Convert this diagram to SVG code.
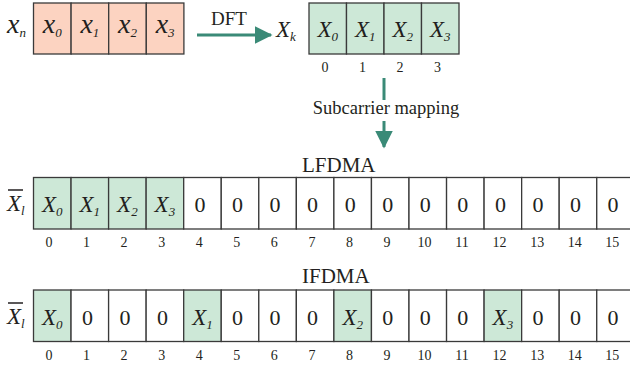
<svg xmlns="http://www.w3.org/2000/svg" width="630" height="367" viewBox="0 0 630 367" font-family="'Liberation Serif', 'Times New Roman', 'DejaVu Serif', serif">
<defs>
<style>
text{font-family:'Liberation Serif','Times New Roman','DejaVu Serif',serif;fill:#231f20}
.v{font-style:italic;font-size:23px}
.lx{font-style:italic;font-size:28px}
.s{font-size:13px;font-style:italic}
.z{font-size:22px}
.i{font-size:14px}
.t{font-size:21px}
.pk{fill:#fcd3c1;stroke:#3a3a3a;stroke-width:1.3}
.gr{fill:#cde8d7;stroke:#3a3a3a;stroke-width:1.3}
.wh{fill:#ffffff;stroke:#3a3a3a;stroke-width:1.3}
.ar{stroke:#3a8a77;stroke-width:3;fill:none}
</style>
<marker id="ah" markerWidth="6" markerHeight="6" refX="5.5" refY="3" orient="auto" markerUnits="strokeWidth" viewBox="0 0 6 6">
<path d="M0,0 L6,3 L0,6 z" fill="#3a8a77"/>
</marker>
</defs>

<g id="xn">
<text class="lx" x="7" y="33">x<tspan class="s" dy="4">n</tspan></text>
<rect class="pk" x="33.5" y="3" width="37.6" height="51"/>
<rect class="pk" x="71.1" y="3" width="37.6" height="51"/>
<rect class="pk" x="108.7" y="3" width="37.6" height="51"/>
<rect class="pk" x="146.3" y="3" width="37.6" height="51"/>
<text class="lx" x="52.3" y="33" text-anchor="middle">x<tspan class="s" dy="4">0</tspan></text>
<text class="lx" x="89.9" y="33" text-anchor="middle">x<tspan class="s" dy="4">1</tspan></text>
<text class="lx" x="127.5" y="33" text-anchor="middle">x<tspan class="s" dy="4">2</tspan></text>
<text class="lx" x="165.1" y="33" text-anchor="middle">x<tspan class="s" dy="4">3</tspan></text>
</g>

<g id="xk">
<text class="v" x="276" y="37">X<tspan class="s" dy="4">k</tspan></text>
<rect class="gr" x="309" y="3" width="37.5" height="51"/>
<rect class="gr" x="346.5" y="3" width="37.5" height="51"/>
<rect class="gr" x="384" y="3" width="37.5" height="51"/>
<rect class="gr" x="421.5" y="3" width="37.5" height="51"/>
<text class="v" x="327.75" y="37" text-anchor="middle">X<tspan class="s" dy="4">0</tspan></text>
<text class="v" x="365.25" y="37" text-anchor="middle">X<tspan class="s" dy="4">1</tspan></text>
<text class="v" x="402.75" y="37" text-anchor="middle">X<tspan class="s" dy="4">2</tspan></text>
<text class="v" x="440.25" y="37" text-anchor="middle">X<tspan class="s" dy="4">3</tspan></text>
<text class="i" x="325" y="72" text-anchor="middle">0</text>
<text class="i" x="362.5" y="72" text-anchor="middle">1</text>
<text class="i" x="400" y="72" text-anchor="middle">2</text>
<text class="i" x="437.5" y="72" text-anchor="middle">3</text>
</g>

<g id="connectors">
<line class="ar" x1="197" y1="35" x2="271" y2="35" marker-end="url(#ah)"/>
<text x="229" y="25" text-anchor="middle" style="font-size:19px">DFT</text>
<line class="ar" x1="384" y1="78" x2="384" y2="100"/>
<text x="386" y="114" text-anchor="middle" style="font-size:18.5px">Subcarrier mapping</text>
<line class="ar" x1="384" y1="121" x2="384" y2="147" marker-end="url(#ah)"/>
</g>

<g id="lfdma">
<text class="t" x="302" y="172">LFDMA</text>
<text class="v" x="7" y="211">X<tspan class="s" dy="4">l</tspan></text>
<line x1="8" y1="190" x2="23" y2="190" stroke="#231f20" stroke-width="1.5"/>
<rect class="gr" x="33.5" y="177.5" width="37.55" height="51.5"/>
<rect class="gr" x="71.05" y="177.5" width="37.55" height="51.5"/>
<rect class="gr" x="108.6" y="177.5" width="37.55" height="51.5"/>
<rect class="gr" x="146.15" y="177.5" width="37.55" height="51.5"/>
<rect class="wh" x="183.7" y="177.5" width="37.55" height="51.5"/>
<rect class="wh" x="221.25" y="177.5" width="37.55" height="51.5"/>
<rect class="wh" x="258.8" y="177.5" width="37.55" height="51.5"/>
<rect class="wh" x="296.35" y="177.5" width="37.55" height="51.5"/>
<rect class="wh" x="333.9" y="177.5" width="37.55" height="51.5"/>
<rect class="wh" x="371.45" y="177.5" width="37.55" height="51.5"/>
<rect class="wh" x="409" y="177.5" width="37.55" height="51.5"/>
<rect class="wh" x="446.55" y="177.5" width="37.55" height="51.5"/>
<rect class="wh" x="484.1" y="177.5" width="37.55" height="51.5"/>
<rect class="wh" x="521.65" y="177.5" width="37.55" height="51.5"/>
<rect class="wh" x="559.2" y="177.5" width="37.55" height="51.5"/>
<rect class="wh" x="596.75" y="177.5" width="37.55" height="51.5"/>
<text class="v" x="52.3" y="212" text-anchor="middle">X<tspan class="s" dy="4">0</tspan></text>
<text class="v" x="89.8" y="212" text-anchor="middle">X<tspan class="s" dy="4">1</tspan></text>
<text class="v" x="127.4" y="212" text-anchor="middle">X<tspan class="s" dy="4">2</tspan></text>
<text class="v" x="164.9" y="212" text-anchor="middle">X<tspan class="s" dy="4">3</tspan></text>
<g class="z" text-anchor="middle">
<text x="200" y="212">0</text><text x="237.5" y="212">0</text><text x="275.1" y="212">0</text><text x="312.6" y="212">0</text>
<text x="350.2" y="212">0</text><text x="387.7" y="212">0</text><text x="425.3" y="212">0</text><text x="462.8" y="212">0</text>
<text x="500.4" y="212">0</text><text x="537.9" y="212">0</text><text x="575.5" y="212">0</text><text x="613" y="212">0</text>
</g>
<g class="i" text-anchor="middle">
<text x="49" y="247">0</text><text x="86.6" y="247">1</text><text x="124.1" y="247">2</text><text x="161.7" y="247">3</text>
<text x="199.2" y="247">4</text><text x="236.8" y="247">5</text><text x="274.3" y="247">6</text><text x="311.9" y="247">7</text>
<text x="349.4" y="247">8</text><text x="387" y="247">9</text><text x="424.5" y="247">10</text><text x="462.1" y="247">11</text>
<text x="499.6" y="247">12</text><text x="537.2" y="247">13</text><text x="574.7" y="247">14</text><text x="612.3" y="247">15</text>
</g>
</g>

<g id="ifdma">
<text class="t" x="302" y="283">IFDMA</text>
<text class="v" x="7" y="324">X<tspan class="s" dy="4">l</tspan></text>
<line x1="8" y1="303" x2="23" y2="303" stroke="#231f20" stroke-width="1.5"/>
<rect class="gr" x="33.5" y="290" width="37.55" height="51.5"/>
<rect class="wh" x="71.05" y="290" width="37.55" height="51.5"/>
<rect class="wh" x="108.6" y="290" width="37.55" height="51.5"/>
<rect class="wh" x="146.15" y="290" width="37.55" height="51.5"/>
<rect class="gr" x="183.7" y="290" width="37.55" height="51.5"/>
<rect class="wh" x="221.25" y="290" width="37.55" height="51.5"/>
<rect class="wh" x="258.8" y="290" width="37.55" height="51.5"/>
<rect class="wh" x="296.35" y="290" width="37.55" height="51.5"/>
<rect class="gr" x="333.9" y="290" width="37.55" height="51.5"/>
<rect class="wh" x="371.45" y="290" width="37.55" height="51.5"/>
<rect class="wh" x="409" y="290" width="37.55" height="51.5"/>
<rect class="wh" x="446.55" y="290" width="37.55" height="51.5"/>
<rect class="gr" x="484.1" y="290" width="37.55" height="51.5"/>
<rect class="wh" x="521.65" y="290" width="37.55" height="51.5"/>
<rect class="wh" x="559.2" y="290" width="37.55" height="51.5"/>
<rect class="wh" x="596.75" y="290" width="37.55" height="51.5"/>
<text class="v" x="52.3" y="325" text-anchor="middle">X<tspan class="s" dy="4">0</tspan></text>
<text class="v" x="202.5" y="325" text-anchor="middle">X<tspan class="s" dy="4">1</tspan></text>
<text class="v" x="352.7" y="325" text-anchor="middle">X<tspan class="s" dy="4">2</tspan></text>
<text class="v" x="502.9" y="325" text-anchor="middle">X<tspan class="s" dy="4">3</tspan></text>
<g class="z" text-anchor="middle">
<text x="87.4" y="325">0</text><text x="125" y="325">0</text><text x="162.5" y="325">0</text>
<text x="237.5" y="325">0</text><text x="275.1" y="325">0</text><text x="312.6" y="325">0</text>
<text x="387.7" y="325">0</text><text x="425.3" y="325">0</text><text x="462.8" y="325">0</text>
<text x="537.9" y="325">0</text><text x="575.5" y="325">0</text><text x="613" y="325">0</text>
</g>
<g class="i" text-anchor="middle">
<text x="49" y="360">0</text><text x="86.6" y="360">1</text><text x="124.1" y="360">2</text><text x="161.7" y="360">3</text>
<text x="199.2" y="360">4</text><text x="236.8" y="360">5</text><text x="274.3" y="360">6</text><text x="311.9" y="360">7</text>
<text x="349.4" y="360">8</text><text x="387" y="360">9</text><text x="424.5" y="360">10</text><text x="462.1" y="360">11</text>
<text x="499.6" y="360">12</text><text x="537.2" y="360">13</text><text x="574.7" y="360">14</text><text x="612.3" y="360">15</text>
</g>
</g>
</svg>
